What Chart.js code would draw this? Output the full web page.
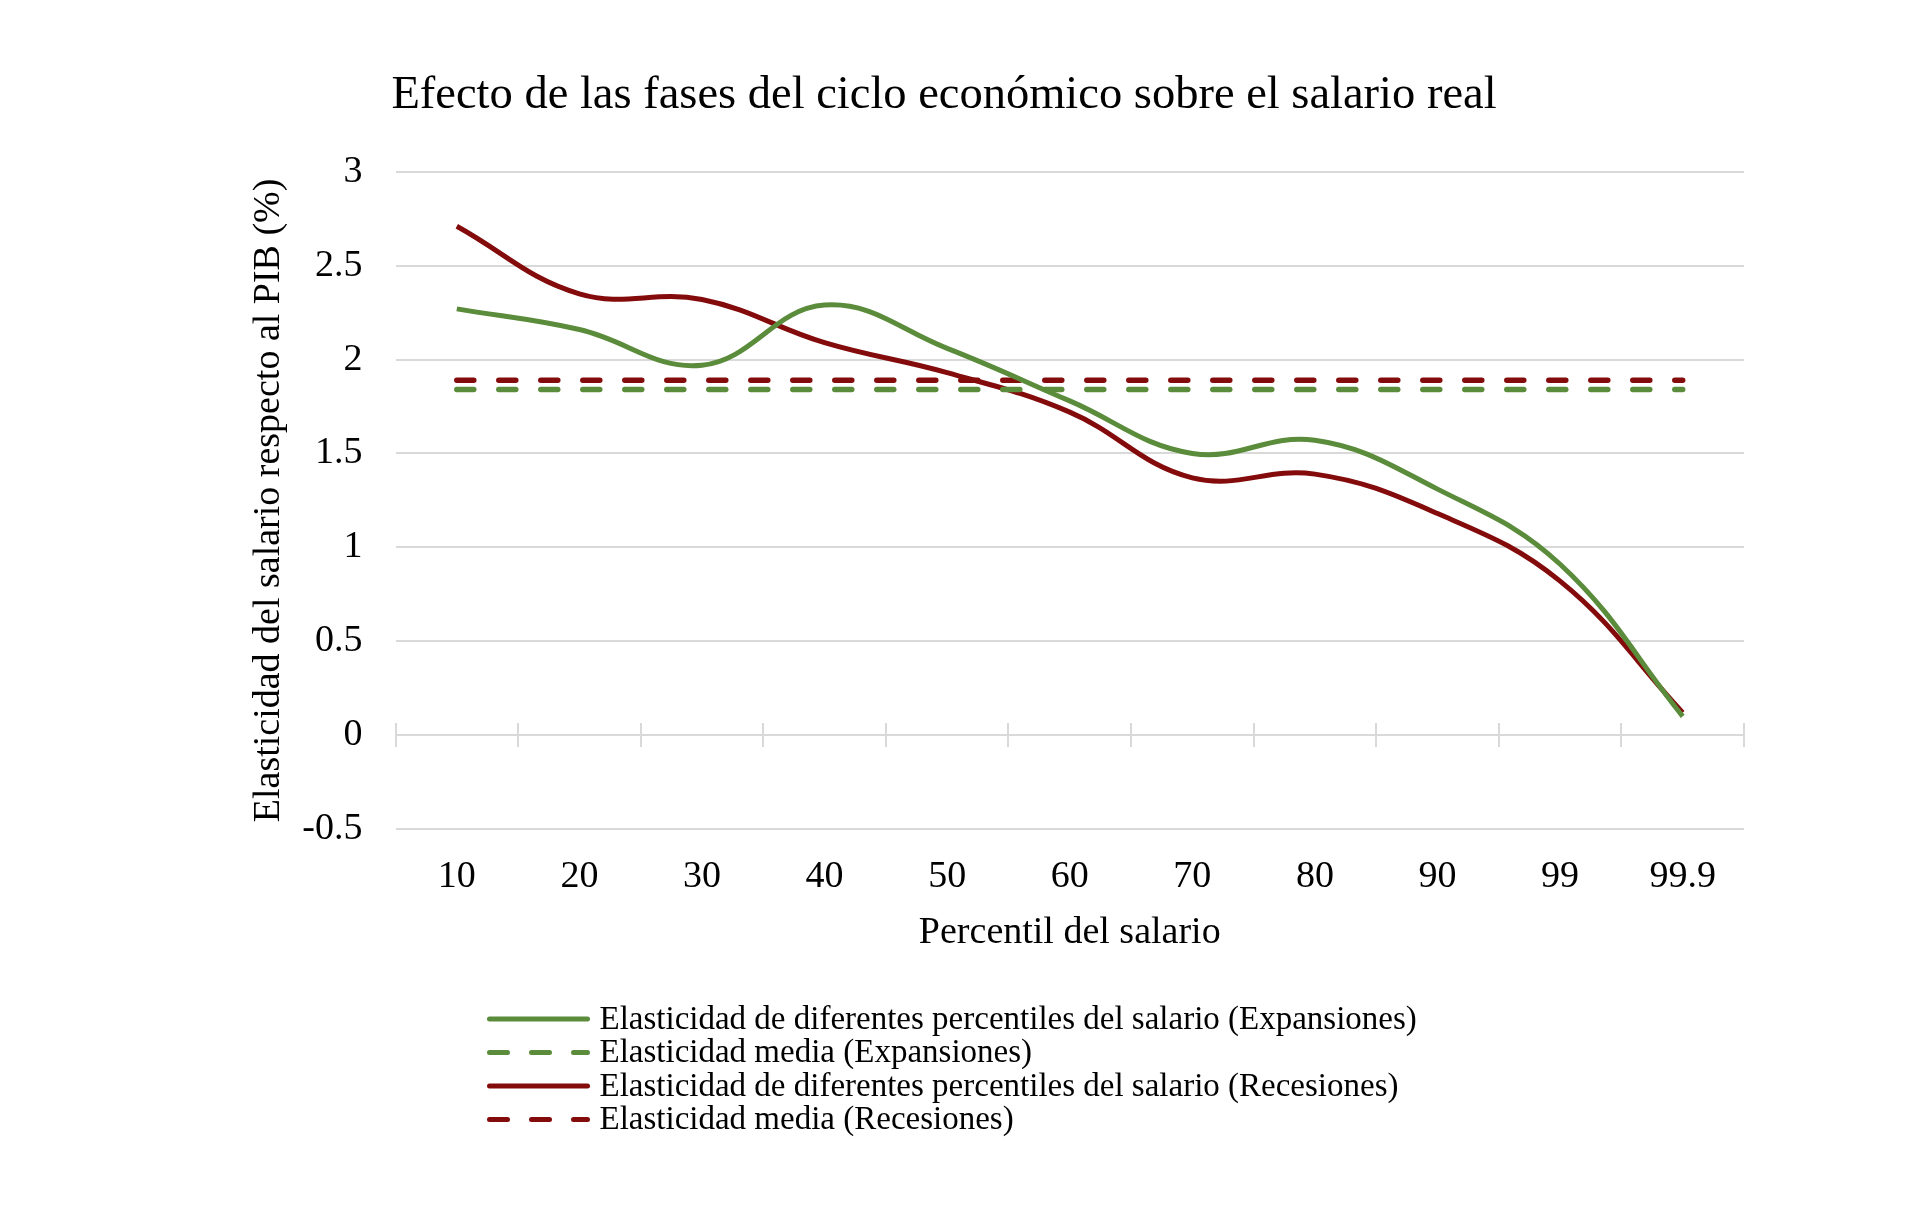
<!DOCTYPE html>
<html lang="es">
<head>
<meta charset="utf-8">
<title>Efecto de las fases del ciclo económico sobre el salario real</title>
<script src="https://cdn.jsdelivr.net/npm/chart.js@4/dist/chart.umd.min.js"></script>
<style>
  html, body { margin: 0; padding: 0; background: #fff; }
</style>
</head>
<body>
<canvas id="grafico" width="1920" height="1211"></canvas>
<script>
// Datos
const percentiles = ["10", "20", "30", "40", "50", "60", "70", "80", "90", "99", "99.9"];
const elasticidadExpansiones = [2.27, 2.16, 1.97, 2.29, 2.06, 1.78, 1.50, 1.57, 1.31, 0.91, 0.10];
const elasticidadRecesiones = [2.71, 2.35, 2.32, 2.09, 1.93, 1.72, 1.37, 1.39, 1.18, 0.82, 0.12];
const mediaExpansiones = [1.84, 1.84, 1.84, 1.84, 1.84, 1.84, 1.84, 1.84, 1.84, 1.84, 1.84];
const mediaRecesiones = [1.89, 1.89, 1.89, 1.89, 1.89, 1.89, 1.89, 1.89, 1.89, 1.89, 1.89];
const ticksY = [-0.5, 0, 0.5, 1, 1.5, 2, 2.5, 3];

const VERDE = "#5b8c3b";
const ROJO = "#830b0b";
const GRIS = "#d9d9d9";
const FUENTE = "'Liberation Serif', 'Times New Roman', serif";

// Marcas del eje en y = 0 (entre categorías)
const ejeCero = {
    id: "ejeCero",
    beforeDatasetsDraw(chart) {
        const ctx = chart.ctx;
        const x = chart.scales.x, y = chart.scales.y;
        const y0 = y.getPixelForValue(0);
        const mitad = (x.getPixelForValue(1) - x.getPixelForValue(0)) / 2;
        ctx.save();
        ctx.strokeStyle = GRIS;
        ctx.lineWidth = 2;
        for (let i = 0; i <= percentiles.length; i++) {
            const px = Math.round(x.getPixelForValue(0) - mitad + i * 2 * mitad);
            ctx.beginPath();
            ctx.moveTo(px, y0 - 12);
            ctx.lineTo(px, y0 + 12);
            ctx.stroke();
        }
        ctx.restore();
    }
};

// Leyenda en columna debajo del gráfico
const leyenda = {
    id: "leyenda",
    afterDraw(chart) {
        const ctx = chart.ctx;
        const area = chart.chartArea;
        const x0 = area.left + 94, x1 = x0 + 98, xt = area.left + 204;
        let y = area.bottom + 190;
        ctx.save();
        chart.data.datasets.forEach(ds => {
            ctx.strokeStyle = ds.borderColor;
            ctx.lineWidth = 5;
            ctx.lineCap = "round";
            ctx.setLineDash(ds.borderDash ? [18, 24] : []);
            ctx.beginPath();
            ctx.moveTo(x0, y);
            ctx.lineTo(x1, y);
            ctx.stroke();
            ctx.setLineDash([]);
            ctx.fillStyle = "#000";
            ctx.font = "33px " + FUENTE;
            ctx.textBaseline = "middle";
            ctx.fillText(ds.label, xt, y + 1);
            y += 33.5;
        });
        ctx.restore();
    }
};

const ctx = document.getElementById("grafico").getContext("2d");
new Chart(ctx, {
    type: "line",
    data: {
        labels: percentiles,
        datasets: [
            {
                label: "Elasticidad de diferentes percentiles del salario (Expansiones)",
                data: elasticidadExpansiones,
                borderColor: VERDE,
                borderWidth: 5,
                tension: 0.4,
                pointRadius: 0
            },
            {
                label: "Elasticidad media (Expansiones)",
                data: mediaExpansiones,
                borderColor: VERDE,
                borderWidth: 5.5,
                borderDash: [17, 25],
                borderCapStyle: "round",
                pointRadius: 0
            },
            {
                label: "Elasticidad de diferentes percentiles del salario (Recesiones)",
                data: elasticidadRecesiones,
                borderColor: ROJO,
                borderWidth: 5,
                tension: 0.4,
                pointRadius: 0
            },
            {
                label: "Elasticidad media (Recesiones)",
                data: mediaRecesiones,
                borderColor: ROJO,
                borderWidth: 5.5,
                borderDash: [17, 25],
                borderCapStyle: "round",
                pointRadius: 0
            }
        ]
    },
    options: {
        responsive: false,
        animation: false,
        layout: { padding: { top: 0, left: 144, right: 176, bottom: 242 } },
        plugins: {
            legend: { display: false },
            tooltip: { enabled: false },
            title: {
                display: true,
                text: "Efecto de las fases del ciclo económico sobre el salario real",
                color: "#000",
                font: { family: FUENTE, size: 46.5, weight: "normal" },
                padding: { top: 68, bottom: 48 }
            }
        },
        scales: {
            x: {
                offset: true,
                grid: { display: false, drawTicks: false },
                border: { display: false },
                ticks: {
                    color: "#000",
                    padding: 25,
                    font: { family: FUENTE, size: 38 }
                },
                title: {
                    display: true,
                    text: "Percentil del salario",
                    color: "#000",
                    font: { family: FUENTE, size: 38 },
                    padding: { top: 0, bottom: 13 }
                },
                afterFit(scale) { scale.height = 140; }
            },
            y: {
                min: -0.5,
                max: 3,
                afterBuildTicks(scale) { scale.ticks = ticksY.map(v => ({ value: v })); },
                grid: { color: GRIS, lineWidth: 2, drawTicks: false },
                border: { display: false },
                ticks: {
                    color: "#000",
                    padding: 33,
                    font: { family: FUENTE, size: 38 },
                    callback: v => String(v)
                },
                title: {
                    display: true,
                    text: "Elasticidad del salario respecto al PIB (%)",
                    color: "#000",
                    font: { family: FUENTE, size: 38 },
                    padding: { top: 102, bottom: 0 }
                },
                afterFit(scale) { scale.width = 251.5; }
            }
        }
    },
    plugins: [ejeCero, leyenda]
});
</script>
</body>
</html>
